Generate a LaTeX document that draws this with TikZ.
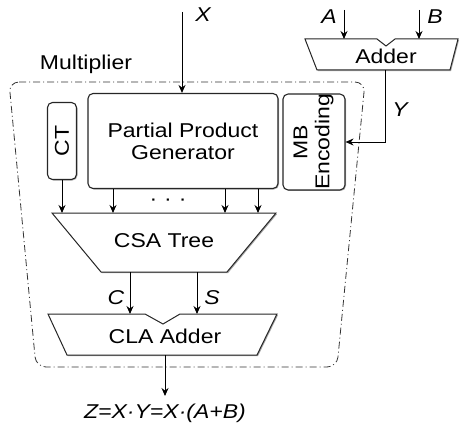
\documentclass[tikz,border=0pt]{standalone}
\usepackage{fontspec}
\setmainfont{Liberation Sans}[FakeStretch=1.15]
\usetikzlibrary{arrows.meta,shadows}
\tikzset{
  blk/.style={draw=black!85, line width=1.1pt, rounded corners=5pt, fill=white,
    font=\fontsize{20}{22}\selectfont, inner sep=0pt,
    drop shadow={shadow xshift=1pt, shadow yshift=-1pt, opacity=0.6}},
  trap/.style={draw=black!85, line width=1pt, fill=white,
    drop shadow={shadow xshift=1pt, shadow yshift=-1.2pt, opacity=0.7}},
  lbl/.style={font=\fontsize{20}{22}\selectfont, inner sep=0pt},
  var/.style={font=\fontsize{20}{22}\selectfont\itshape, inner sep=0pt},
  arr/.style={-{Stealth[length=8pt,width=7pt]}, line width=0.9pt},
  mult/.style={draw=black!80, line width=0.8pt, rounded corners=10pt,
    dash pattern=on 7pt off 3pt on 1pt off 3pt}
}

\begin{document}
\begin{tikzpicture}[x=1pt, y=-1pt]
\useasboundingbox (0,0) rectangle (460,425);

\draw[mult] (9,82) -- (365,82) -- (337,367) -- (36,367) -- cycle;
\node[lbl] (multlabel) at (86,64) {Multiplier};

\node[blk, minimum width=29, minimum height=77] (ct) at (62,141) {\rotatebox{90}{CT}};
\node[blk, minimum width=190, minimum height=95, align=center] (ppg) at (183,141) {Partial Product\\Generator};
\node[blk, minimum width=62, minimum height=94] (mb) at (314,142)
  {\rotatebox{90}{\begin{tabular}{@{}c@{}}MB\\Encoding\end{tabular}}};

\draw[trap] (305,39) -- (377,39) -- (386,46) -- (395,39) -- (458,39) -- (450,70) -- (317,70) -- cycle;
\node[lbl] (adder) at (386,56) {Adder};

\draw[trap] (52,213) -- (276,213) -- (227,272) -- (101,272) -- cycle;
\node[lbl] (csa) at (164,241) {CSA Tree};

\draw[trap] (48,314) -- (145,314) -- (163,324) -- (180,314) -- (277,314) -- (257,355) -- (67,355) -- cycle;
\node[lbl] (cla) at (165,336) {CLA Adder};

\coordinate (xin) at (182,12);
\coordinate (ain) at (344,10);
\coordinate (bin) at (419,10);
\coordinate (addtop) at (386,39);
\coordinate (addout) at (385,70);
\coordinate (csain1) at (62,213);
\coordinate (csain2) at (113,213);
\coordinate (csain3) at (225,213);
\coordinate (csain4) at (258,213);
\coordinate (csac) at (130,272);
\coordinate (csas) at (197,272);
\coordinate (clac) at (130,314);
\coordinate (clas) at (197,314);
\coordinate (claout) at (165,355);
\coordinate (zout) at (165,396);

\draw[arr] (xin) -- (xin |- ppg.north);
\node[var] (xlabel) at (203,15) {X};

\draw[arr] (ain) -- (ain |- addtop);
\draw[arr] (bin) -- (bin |- addtop);
\node[var] (alabel) at (329,17) {A};
\node[var] (blabel) at (435,17) {B};

\draw[arr] (addout) |- (mb.east);
\node[var] (ylabel) at (400,110) {Y};

\draw[arr] (ct) -- (csain1);
\draw[arr] (ppg.south -| csain2) -- (csain2);
\draw[arr] (ppg.south -| csain3) -- (csain3);
\draw[arr] (ppg.south -| csain4) -- (csain4);
\node[lbl] (dots) at (168,202) {\textperiodcentered\hspace{7pt}\textperiodcentered\hspace{7pt}\textperiodcentered};

\draw[arr] (csac) -- (clac);
\draw[arr] (csas) -- (clas);
\node[var] (clabel) at (116,298) {C};
\node[var] (slabel) at (212,298) {S};

\draw[arr] (claout) -- (zout);
\node[var] (zlabel) at (165,413) {Z=X\textperiodcentered Y=X\textperiodcentered (A+B)};
\end{tikzpicture}
\end{document}
